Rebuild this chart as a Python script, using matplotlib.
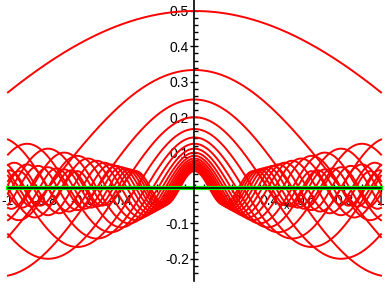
import numpy as np
import matplotlib.pyplot as plt

# family f_n(x) = cos(n x)/(n+1), n = 1..N, plus its limit 0 (green)
n_values = list(range(1, 21))
x_range = (-1.0, 1.0)
y_range = (-0.2475, 0.5)
x_ticks = [-1, -0.8, -0.6, -0.4, -0.2, 0.2, 0.4, 0.6, 0.8, 1]
x_ticklabels = ['-1', '-0.8', '-0.6', '-0.4', '-0.2', '0.2', '0.4', '0.6', '0.8', '1']
y_ticks = [-0.2, -0.1, 0.1, 0.2, 0.3, 0.4, 0.5]
y_ticklabels = ['-0.2', '-0.1', '0.1', '0.2', '0.3', '0.4', '0.5']

plt.rcParams['font.family'] = ['Liberation Sans', 'DejaVu Sans']

W, H = 388, 288
fig = plt.figure(figsize=(W / 100, H / 100), dpi=100)
x0, x1 = 8, 381
ytop, ybot = 11, 275.6
ax = fig.add_axes([x0 / W, 1 - ybot / H, (x1 - x0) / W, (ybot - ytop) / H])

x = np.linspace(x_range[0], x_range[1], 1500)
for n in n_values:
    ax.plot(x, np.cos(n * x) / (n + 1), color='#ff0000', lw=1.4, clip_on=False)
ax.plot(x, np.zeros_like(x), color='#00ff00', lw=3, clip_on=False)

ax.set_xlim(*x_range)
ax.set_ylim(*y_range)
for s in ['top', 'right']:
    ax.spines[s].set_visible(False)
ax.spines['left'].set_position(('data', 0))
ax.spines['bottom'].set_position(('data', 0))
ax.spines['left'].set_linewidth(1.2)
ax.spines['bottom'].set_linewidth(1.2)
ax.spines['left'].set_bounds(-0.263, 0.53)
ax.spines['left'].set_clip_on(False)

ax.set_xticks(x_ticks)
ax.set_xticklabels(x_ticklabels)
ax.set_yticks(y_ticks)
ax.set_yticklabels(y_ticklabels)
ax.set_xticks(np.arange(-1, 1.001, 0.05), minor=True)
ax.set_yticks(np.arange(-0.24, 0.501, 0.02), minor=True)
ax.tick_params(axis='both', which='major', direction='inout', length=6, width=1,
               labelsize=10, pad=1)
ax.tick_params(axis='both', which='minor', direction='in', length=3, width=1)
ax.patch.set_alpha(0)

ax.text(0.494, -0.051, 'x', fontsize=8, ha='center', va='center')

fig.savefig('out.png', dpi=100)
